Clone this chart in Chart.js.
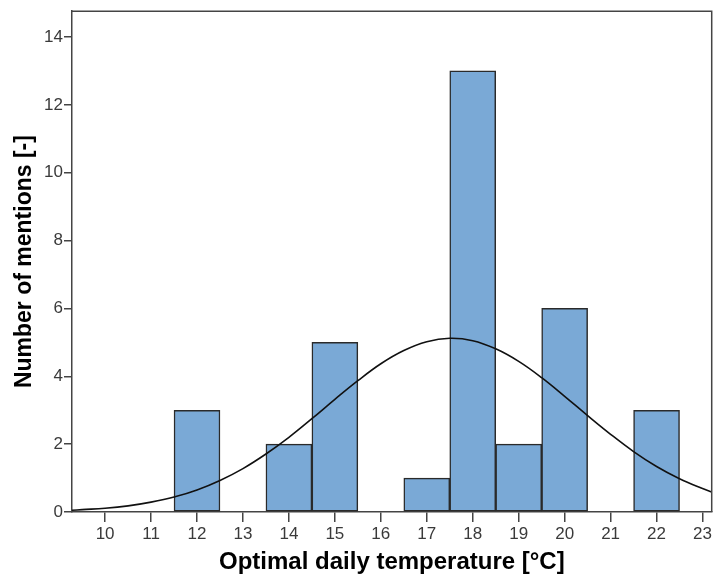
<!DOCTYPE html>
<html>
<head>
<meta charset="utf-8">
<script src="https://cdn.jsdelivr.net/npm/chart.js@4.4.1/dist/chart.umd.min.js"></script>
<style>
  html, body { margin: 0; padding: 0; background: #fff; }
  #wrap { width: 714px; height: 577px; }
</style>
</head>
<body>
<div id="wrap"><canvas id="histo"></canvas></div>
<script>
// histogram counts per temperature
const temperatures = [12, 14, 15, 17, 18, 19, 20, 22];
const mentions = [3, 2, 5, 1, 13, 2, 6, 3];

// normal curve
const curveX = [9.28, 9.5, 10, 10.5, 11, 11.5, 12, 12.5, 13, 13.5, 14, 14.5, 15, 15.5, 16, 16.5, 17, 17.5, 18, 18.5, 19, 19.5, 20, 20.5, 21, 21.5, 22, 22.5, 23, 23.2];
const curveY = [0.05, 0.07, 0.11, 0.18, 0.29, 0.44, 0.65, 0.93, 1.28, 1.71, 2.2, 2.75, 3.32, 3.87, 4.37, 4.76, 5.02, 5.12, 5.05, 4.81, 4.44, 3.96, 3.41, 2.84, 2.29, 1.78, 1.34, 0.98, 0.69, 0.59];

const xTicks = [10, 11, 12, 13, 14, 15, 16, 17, 18, 19, 20, 21, 22, 23];
const yTicks = [0, 2, 4, 6, 8, 10, 12, 14];

const frame = {
  id: 'frame',
  afterDraw(chart) {
    const { ctx, chartArea: a } = chart;
    ctx.save();
    ctx.strokeStyle = '#444';
    ctx.lineWidth = 1.5;
    ctx.beginPath();
    ctx.moveTo(a.left, a.top);
    ctx.lineTo(a.right, a.top);
    ctx.lineTo(a.right, a.bottom);
    ctx.stroke();
    ctx.restore();
  }
};

const tickFont = { family: "'Liberation Sans Narrow', 'Liberation Sans', Arial", size: 17 };
const titleFont = { family: "'Liberation Sans', Arial", size: 24, weight: 'bold' };

new Chart(document.getElementById('histo'), {
  type: 'bar',
  plugins: [frame],
  data: {
    datasets: [
      {
        type: 'line',
        data: curveX.map((x, i) => ({ x: x, y: curveY[i] })),
        borderColor: '#111',
        borderWidth: 1.6,
        pointRadius: 0,
        tension: 0.4,
        fill: false
      },
      {
        data: temperatures.map((t, i) => ({ x: t, y: mentions[i] })),
        backgroundColor: '#7aa9d6',
        borderColor: '#2a2a2a',
        borderWidth: 1.5,
        borderSkipped: false,
        barPercentage: 1,
        categoryPercentage: 1
      }
    ]
  },
  options: {
    responsive: true,
    maintainAspectRatio: false,
    animation: false,
    layout: { padding: { top: 7, right: 2, left: 0, bottom: 0 } },
    plugins: { legend: { display: false }, tooltip: { enabled: false } },
    scales: {
      x: {
        type: 'linear',
        offset: false,
        min: 9.28,
        max: 23.2,
        afterBuildTicks: s => { s.ticks = xTicks.map(v => ({ value: v })); },
        afterFit: s => { s.height = 65; },
        grid: { offset: false, drawOnChartArea: false, tickLength: 10, color: '#444', lineWidth: 1.5 },
        border: { color: '#444', width: 1.5 },
        ticks: { color: '#3a3a3a', font: tickFont, padding: 2, maxRotation: 0 },
        title: { display: true, text: 'Optimal daily temperature [°C]', color: '#000', font: titleFont, padding: { top: 0, bottom: 0 } }
      },
      y: {
        min: 0,
        max: 14.76,
        afterBuildTicks: s => { s.ticks = yTicks.map(v => ({ value: v })); },
        afterFit: s => { s.width = 72; },
        grid: { drawOnChartArea: false, tickLength: 8, color: '#444', lineWidth: 1.5 },
        border: { color: '#444', width: 1.5 },
        ticks: { color: '#3a3a3a', font: tickFont, padding: 1 },
        title: { display: true, text: 'Number of mentions [-]', color: '#000', font: { family: "'Liberation Sans', Arial", size: 23, weight: 'bold' }, padding: { top: 11, bottom: 0 } }
      }
    }
  }
});
</script>
</body>
</html>
